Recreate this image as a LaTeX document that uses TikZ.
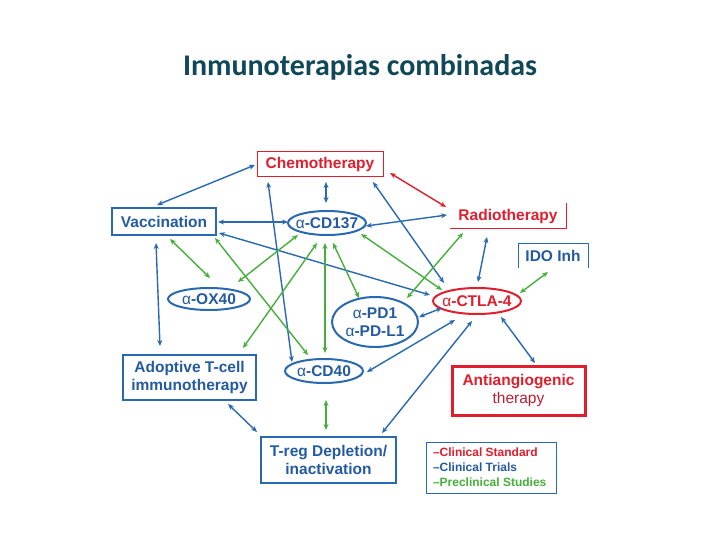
\documentclass[tikz,border=0pt]{standalone}
\usepackage{fontspec}
\setmainfont{Liberation Sans}
\newfontfamily\titlefont{Carlito}
\usetikzlibrary{arrows.meta,shapes.geometric}
\definecolor{lblue}{RGB}{40,105,175}
\definecolor{tblue}{RGB}{35,90,160}
\definecolor{dred}{RGB}{225,30,45}
\definecolor{tred}{RGB}{185,30,50}
\definecolor{lgreen}{RGB}{70,175,60}
\definecolor{ttl}{RGB}{16,72,88}
\begin{document}
\begin{tikzpicture}[x=1pt,y=-1pt,
  every node/.style={inner sep=0pt,outer sep=0pt},
  lbl/.style={font=\fontsize{15.5}{18.5}\selectfont\bfseries,align=center},
  bbox/.style={rectangle,draw=lblue,line width=1.1pt,text=tblue,lbl},
  rbox/.style={rectangle,draw=dred,line width=1pt,text=dred,lbl},
  ell/.style={ellipse,draw=lblue,line width=2pt},
  tip/.style={{Stealth[length=6pt,width=5pt]}-{Stealth[length=6pt,width=5pt]}},
  bcon/.style={draw=lblue,line width=1.4pt,tip},
  bthick/.style={draw=lblue,line width=2.4pt,tip},
  gcon/.style={draw=lgreen,line width=1.4pt,tip},
  gthick/.style={draw=lgreen,line width=2.4pt,tip},
  rcon/.style={draw=dred,line width=1.4pt,tip}
]
\fill[white] (0,0) rectangle (720,540);
\useasboundingbox (0,0) rectangle (720,540);

\node[font=\titlefont\bfseries\fontsize{30}{36}\selectfont,text=ttl,anchor=base] (title) at (360,76) {Inmunoterapias combinadas};

% boxes
\node[rbox,minimum width=126pt,minimum height=25pt] (chemo) at (320,164.5) {Chemotherapy};
\node[lbl,text=dred,minimum width=116pt,minimum height=26pt] (radio) at (508,216) {Radiotherapy};
\draw[dred,line width=1pt] (radio.south west) -- (radio.south east) -- (radio.north east);
\node[lbl,text=tblue,minimum width=70pt,minimum height=25pt] (ido) at (553,255.5) {IDO Inh};
\draw[lblue,line width=1pt] (ido.south west) -- (ido.north west) -- (ido.north east) -- (ido.south east);
\node[bbox,minimum width=104pt,minimum height=27pt] (vacc) at (164,221.5) {Vaccination};
\node[bbox,minimum width=133pt,minimum height=45pt] (adopt) at (189.5,377.5) {Adoptive T-cell\\immunotherapy};
\node[bbox,minimum width=135pt,minimum height=46pt] (treg) at (328.5,460) {T-reg Depletion/\\inactivation};
\node[draw=lblue,line width=1pt,minimum width=130pt,minimum height=51pt] (legend) at (491,467.5) {};
\node[anchor=west,align=left,font=\fontsize{12}{14.8}\selectfont\bfseries] (legtext) at ([xshift=7pt]legend.west)
  {\textcolor{dred}{–Clinical Standard}\\\textcolor{tblue}{–Clinical Trials}\\\textcolor{lgreen}{–Preclinical Studies}};
\node[rectangle,draw=dred,line width=3pt,minimum width=133pt,minimum height=49pt,lbl,text=dred] (anti) at (518.5,390.5)
  {Antiangiogenic\\\textcolor{tred}{\mdseries therapy}};

% ellipses
\node[ell,minimum width=78pt,minimum height=24pt] (cd137) at (327,223) {};
\node[lbl,text=tblue] (cd137t) at (cd137) {{\mdseries α}-CD137};
\node[ell,minimum width=82pt,minimum height=22pt] (ox40) at (209,299) {};
\node[lbl,text=tblue] (ox40t) at (ox40) {{\mdseries α}-OX40};
\node[ell,minimum width=86pt,minimum height=50pt] (pd1) at (375,322) {};
\node[lbl,text=tblue] (pd1t) at (pd1) {{\mdseries α}-PD1\\{\mdseries α}-PD-L1};
\node[ell,minimum width=78pt,minimum height=24pt] (cd40) at (324,371) {};
\node[lbl,text=tblue] (cd40t) at (cd40) {{\mdseries α}-CD40};
\node[ell,draw=dred,minimum width=88pt,minimum height=26pt] (ctla) at (477,301) {};
\node[lbl,text=dred] (ctlat) at (ctla) {{\mdseries α}-CTLA-4};

% blue connectors
\draw[bcon] ([shift={(-65,0.5)}]chemo.center) -- ([shift={(-7,-16.5)}]vacc.center);
\draw[bcon] ([shift={(6,17.5)}]chemo.center) -- ([shift={(-1,-20)}]cd137.center);
\draw[bcon] ([shift={(-52,17.5)}]chemo.center) -- ([shift={(-32,-9)}]cd40.center);
\draw[bcon] ([shift={(53,17.5)}]chemo.center) -- ([shift={(-33,-18)}]ctla.center);
\draw[bthick] ([shift={(54,0.5)}]vacc.center) -- ([shift={(-39,-1)}]cd137.center);
\draw[bcon] ([shift={(39,3)}]cd137.center) -- ([shift={(-61,-1)}]radio.center);
\draw[bcon] ([shift={(55,11.5)}]vacc.center) -- ([shift={(-47,-6)}]ctla.center);
\draw[bcon] ([shift={(-8,21.5)}]vacc.center) -- ([shift={(-29.5,-31.5)}]adopt.center);
\draw[bcon] ([shift={(-21,21)}]radio.center) -- ([shift={(1,-19)}]ctla.center);
\draw[bcon] ([shift={(44,-5)}]pd1.center) -- ([shift={(-35,7)}]ctla.center);
\draw[bcon] ([shift={(43,1)}]cd40.center) -- ([shift={(-22,19)}]ctla.center);
\draw[bcon] ([shift={(53.5,-27)}]treg.center) -- ([shift={(-5,20)}]ctla.center);
\draw[bcon] ([shift={(24,16)}]ctla.center) -- ([shift={(16.5,-27.5)}]anti.center);
\draw[bcon] ([shift={(38.5,26.5)}]adopt.center) -- ([shift={(-71.5,-28)}]treg.center);

% red connector
\draw[rcon] ([shift={(70,8.5)}]chemo.center) -- ([shift={(-62,-9)}]radio.center);

% green connectors
\draw[gcon] ([shift={(6,17.5)}]vacc.center) -- ([shift={(1,-21)}]ox40.center);
\draw[gcon] ([shift={(51,16.5)}]vacc.center) -- ([shift={(-16,-16)}]cd40.center);
\draw[gcon] ([shift={(-29,12)}]cd137.center) -- ([shift={(29,-17)}]ox40.center);
\draw[gcon] ([shift={(-10,20)}]cd137.center) -- ([shift={(53.5,-29.5)}]adopt.center);
\draw[gthick] ([shift={(-2,20)}]cd137.center) -- ([shift={(1,-18)}]cd40.center);
\draw[gcon] ([shift={(6,20)}]cd137.center) -- ([shift={(-16,-24)}]pd1.center);
\draw[gcon] ([shift={(34,11)}]cd137.center) -- ([shift={(-35,-11)}]ctla.center);
\draw[gcon] ([shift={(-45,17)}]radio.center) -- ([shift={(32,-24)}]pd1.center);
\draw[gcon] ([shift={(43,-8)}]ctla.center) -- ([shift={(-5,16.5)}]ido.center);
\draw[gthick] ([shift={(2,29)}]cd40.center) -- ([shift={(-2.5,-30)}]treg.center);
\end{tikzpicture}
\end{document}
